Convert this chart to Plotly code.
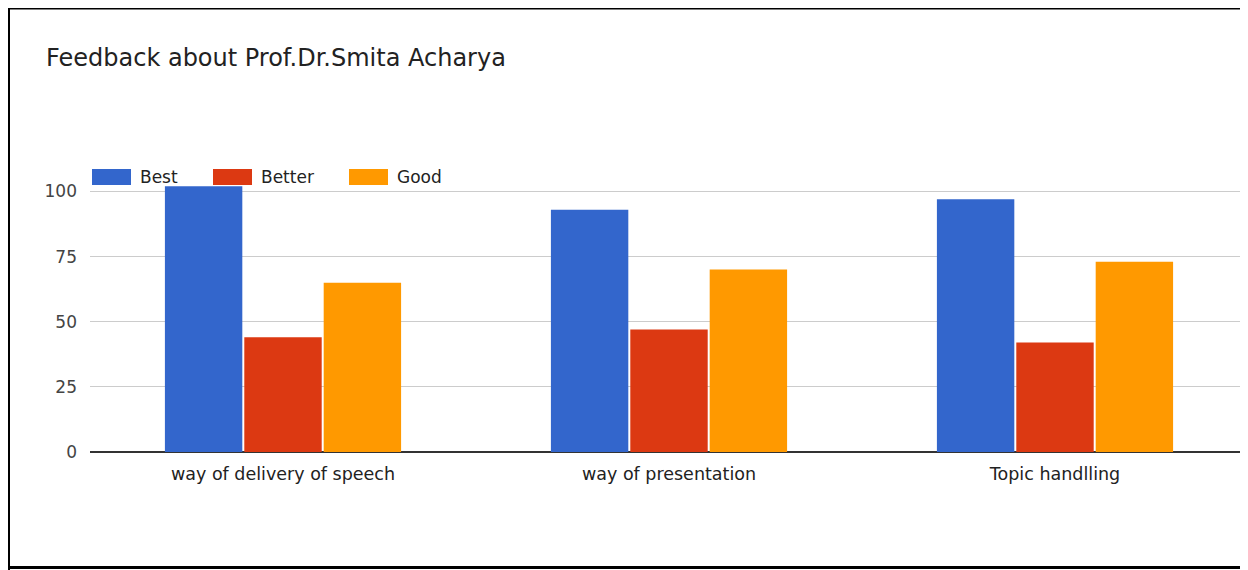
import plotly.graph_objects as go

categories = ["way of delivery of speech", "way of presentation", "Topic handlling"]
series_names = ["Best", "Better", "Good"]
best = [102, 93, 97]
better = [44, 47, 42]
good = [65, 70, 73]
colors = ["#3366CC", "#DC3912", "#FF9900"]
y_ticks = [0, 25, 50, 75, 100]

# the page body has an 8px margin, so the figure is drawn 8px in from the page corner
OFF = 8
W, H = 1248 - OFF, 570 - OFF
L, R, T, B = 90 - OFF, 0, 173, 118
PW, PH = W - L - R, H - T - B
FONT = "DejaVu Sans, Roboto, Arial, sans-serif"


def px_x(px):  # page pixel -> paper x
    return (px - OFF - L) / PW


def px_y(py):  # page pixel -> paper y
    return (H - B - (py - OFF)) / PH


fig = go.Figure()
for name, vals, col in zip(series_names, [best, better, good], colors):
    fig.add_trace(go.Bar(x=categories, y=vals, name=name, marker_color=col,
                         marker_line_width=0, showlegend=False))

shapes = []
annotations = []
# custom legend (wide swatches like the original)
leg_x = [92, 213, 349]
for name, col, x0 in zip(series_names, colors, leg_x):
    shapes.append(dict(type="rect", xref="paper", yref="paper",
                       x0=px_x(x0), x1=px_x(x0 + 39), y0=px_y(185), y1=px_y(169),
                       fillcolor=col, line_width=0))
    annotations.append(dict(xref="paper", yref="paper", x=px_x(x0 + 46), y=px_y(177),
                            text=name, showarrow=False, xanchor="left", yanchor="middle",
                            font=dict(family=FONT, size=17, color="#222")))

# frame lines of the screenshot
shapes.append(dict(type="line", xref="paper", yref="paper", x0=px_x(OFF + 1), x1=px_x(OFF + 1),
                   y0=px_y(OFF), y1=px_y(570), line=dict(color="black", width=2)))
shapes.append(dict(type="line", xref="paper", yref="paper", x0=px_x(OFF), x1=px_x(1248),
                   y0=px_y(OFF + 0.75), y1=px_y(OFF + 0.75), line=dict(color="black", width=1.5)))
shapes.append(dict(type="line", xref="paper", yref="paper", x0=px_x(OFF), x1=px_x(1248),
                   y0=px_y(567.5), y1=px_y(567.5), line=dict(color="black", width=3)))

fig.update_layout(
    width=W, height=H,
    margin=dict(l=L, r=R, t=T, b=B, pad=0),
    paper_bgcolor="white", plot_bgcolor="white",
    barmode="group", bargap=0.383, bargroupgap=0.025,
    title=dict(text="Feedback about Prof.Dr.Smita Acharya", x=(46 - OFF) / W, xanchor="left",
               y=1 - (58 - OFF) / H, yanchor="middle", xref="container", yref="container",
               font=dict(family=FONT, size=24, color="#222")),
    font=dict(family=FONT),
    shapes=shapes, annotations=annotations,
    xaxis=dict(showgrid=False, showline=False, ticks="", ticklabelstandoff=9,
               tickfont=dict(size=17.5, color="#222"), fixedrange=True),
    yaxis=dict(range=[0, 104], tickvals=y_ticks, showgrid=True, gridcolor="#cccccc",
               gridwidth=1, zeroline=True, zerolinecolor="#333333", zerolinewidth=2,
               showline=False, ticks="", ticklabelstandoff=12,
               tickfont=dict(size=17, color="#444"), fixedrange=True),
)

fig.write_html("out.html")
